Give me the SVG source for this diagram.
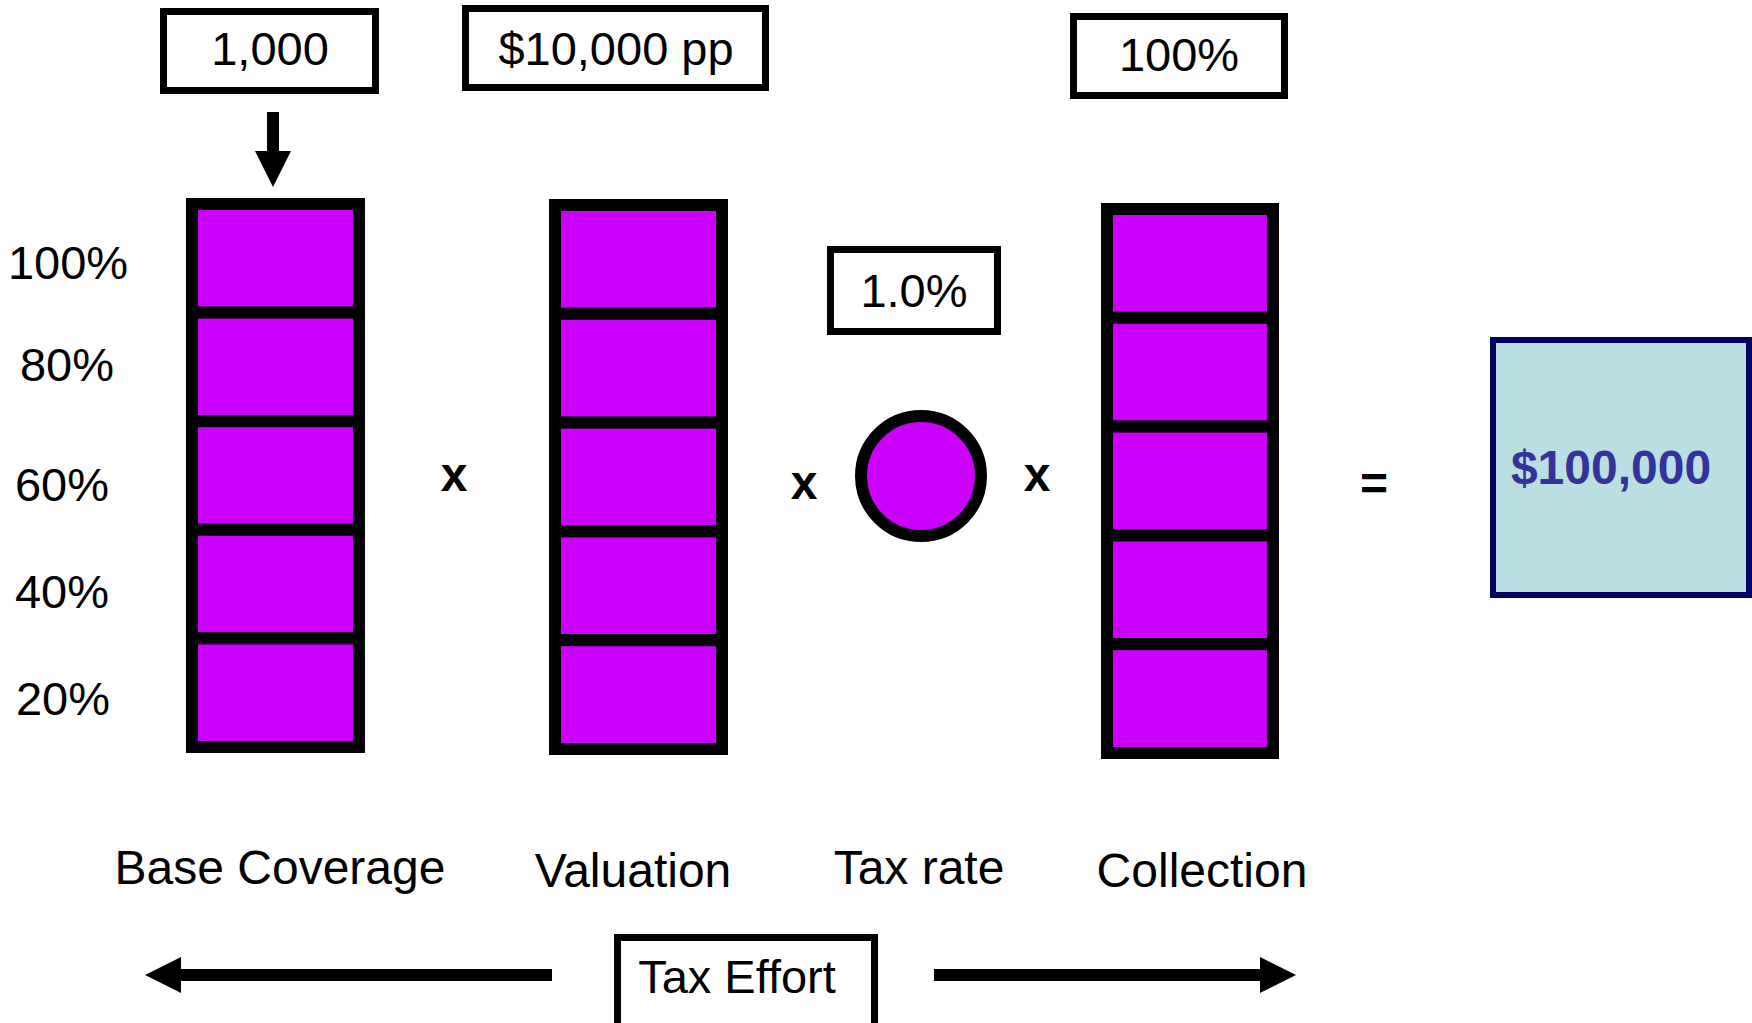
<svg xmlns="http://www.w3.org/2000/svg" width="1752" height="1023" viewBox="0 0 1752 1023">
<style>
  .t { font-family: "Liberation Sans", Arial, sans-serif; font-size: 47px; fill: #000; }
  .lbl { font-family: "Liberation Sans", Arial, sans-serif; font-size: 48px; fill: #000; text-anchor: middle; }
  .op { font-family: "Liberation Sans", Arial, sans-serif; font-size: 48px; font-weight: bold; fill: #000; text-anchor: middle; }
  .box { fill: #fff; stroke: #000; stroke-width: 7; }
  .cell { fill: #CC00FF; stroke: #000; stroke-width: 12; }
  .mid { text-anchor: middle; }
  .conn { stroke: #000; stroke-width: 12; fill: none; }
</style>
<defs>
  <marker id="head" markerUnits="userSpaceOnUse" markerWidth="40" markerHeight="40" viewBox="0 -20 40 40" refX="0" refY="0" orient="auto">
    <path d="M0,-18 L36,0 L0,18 Z" fill="#000"/>
  </marker>
</defs>
<rect width="1752" height="1023" fill="#fff"/>

<g id="box-count">
  <rect class="box" x="163.5" y="11.5" width="212" height="79"/>
  <text class="t mid" x="270" y="65">1,000</text>
</g>
<g id="box-valuation">
  <rect class="box" x="465.5" y="8.5" width="300" height="79"/>
  <text class="t mid" x="616" y="65">$10,000 pp</text>
</g>
<g id="box-collection">
  <rect class="box" x="1073.5" y="16.5" width="211" height="79"/>
  <text class="t mid" x="1179" y="71">100%</text>
</g>
<g id="box-rate">
  <rect class="box" x="830.5" y="249.5" width="167" height="82"/>
  <text class="t mid" x="914" y="307">1.0%</text>
</g>

<g id="scale-labels">
  <text class="t mid" x="68" y="279">100%</text>
  <text class="t mid" x="67" y="381">80%</text>
  <text class="t mid" x="62" y="501">60%</text>
  <text class="t mid" x="62" y="608">40%</text>
  <text class="t mid" x="63" y="715">20%</text>
</g>

<g id="col-base-coverage">
  <rect class="cell" x="192" y="204" width="167" height="108.6"/>
  <rect class="cell" x="192" y="312.6" width="167" height="108.6"/>
  <rect class="cell" x="192" y="421.2" width="167" height="108.6"/>
  <rect class="cell" x="192" y="529.8" width="167" height="108.6"/>
  <rect class="cell" x="192" y="638.4" width="167" height="108.6"/>
</g>
<g id="col-valuation">
  <rect class="cell" x="555" y="205" width="167" height="108.8"/>
  <rect class="cell" x="555" y="313.8" width="167" height="108.8"/>
  <rect class="cell" x="555" y="422.6" width="167" height="108.8"/>
  <rect class="cell" x="555" y="531.4" width="167" height="108.8"/>
  <rect class="cell" x="555" y="640.2" width="167" height="108.8"/>
</g>
<g id="tax-rate-circle">
  <circle class="cell" cx="921" cy="476" r="60"/>
</g>
<g id="col-collection">
  <rect class="cell" x="1107" y="209" width="166" height="108.8"/>
  <rect class="cell" x="1107" y="317.8" width="166" height="108.8"/>
  <rect class="cell" x="1107" y="426.6" width="166" height="108.8"/>
  <rect class="cell" x="1107" y="535.4" width="166" height="108.8"/>
  <rect class="cell" x="1107" y="644.2" width="166" height="108.8"/>
</g>

<g id="operators">
  <text class="op" x="454" y="491">x</text>
  <text class="op" x="804" y="499">x</text>
  <text class="op" x="1037" y="491">x</text>
  <text class="op" x="1374" y="500">=</text>
</g>

<g id="result">
  <rect x="1493" y="340" width="256" height="255" fill="#B9DFE3" stroke="#000066" stroke-width="6"/>
  <text x="1611" y="484" font-family="'Liberation Sans', Arial, sans-serif" font-size="48" font-weight="bold" fill="#333399" text-anchor="middle">$100,000</text>
</g>

<g id="column-labels">
  <text class="lbl" x="280" y="884">Base Coverage</text>
  <text class="lbl" x="633" y="887">Valuation</text>
  <text class="lbl" x="919" y="884">Tax rate</text>
  <text class="lbl" x="1202" y="887">Collection</text>
</g>

<g id="tax-effort">
  <rect class="box" x="617.5" y="937.5" width="257" height="100"/>
  <text class="t mid" x="737" y="993">Tax Effort</text>
</g>

<g id="connectors">
  <line class="conn" x1="273" y1="112" x2="273" y2="151" marker-end="url(#head)"/>
  <line class="conn" x1="552" y1="975" x2="181" y2="975" marker-end="url(#head)"/>
  <line class="conn" x1="934" y1="975" x2="1260" y2="975" marker-end="url(#head)"/>
</g>
</svg>
